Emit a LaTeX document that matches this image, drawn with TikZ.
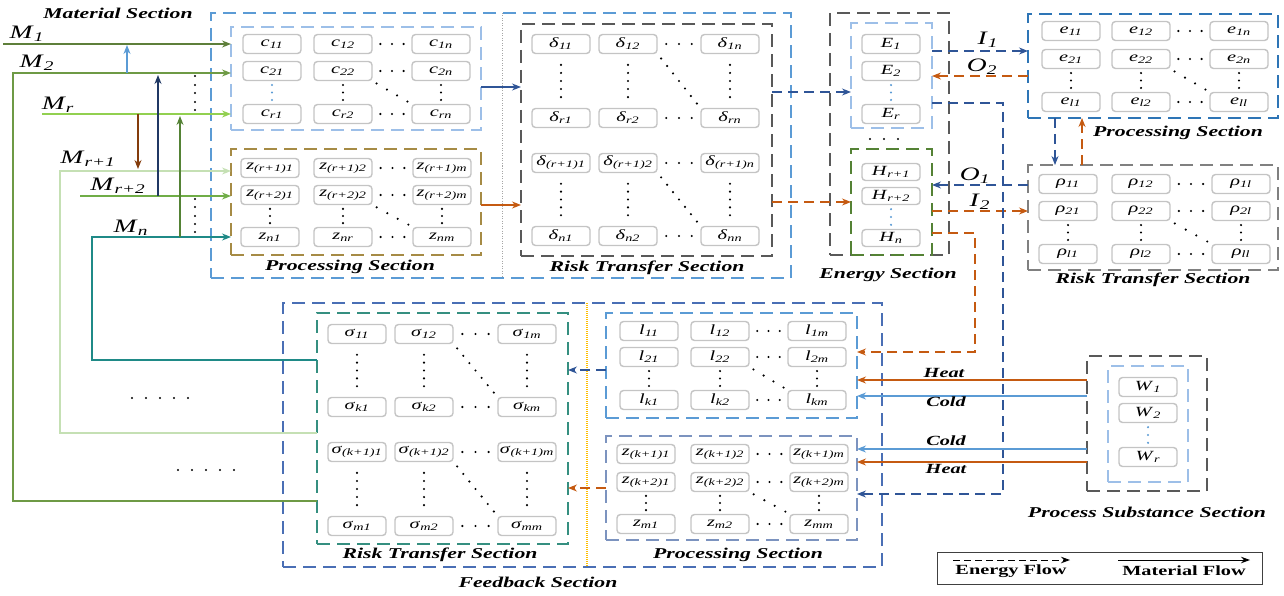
\documentclass[tikz,border=0pt]{standalone}
\usepackage{fontspec}
\setmainfont{Liberation Serif}
\usepackage{graphicx}
\usetikzlibrary{arrows.meta,calc}
\definecolor{procblue}{HTML}{5B9BD5}
\definecolor{lblue}{HTML}{9DBFE8}
\definecolor{zgold}{HTML}{A68B45}
\definecolor{dgray}{HTML}{595959}
\definecolor{mgray}{HTML}{808080}
\definecolor{egreen}{HTML}{548235}
\definecolor{eblue}{HTML}{2E75B6}
\definecolor{fbblue}{HTML}{4A6FB5}
\definecolor{tealb}{HTML}{358F80}
\definecolor{zkblue}{HTML}{7C93BF}
\definecolor{ydiv}{HTML}{FFC000}
\definecolor{arrblue}{HTML}{2F5597}
\definecolor{arrorange}{HTML}{C55A11}
\definecolor{coldc}{HTML}{5B9BD5}
\definecolor{cMa}{HTML}{5E7F3A}
\definecolor{cMb}{HTML}{6E9A45}
\definecolor{cMr}{HTML}{92D050}
\definecolor{cMq}{HTML}{C5E0B4}
\definecolor{cMp}{HTML}{70AD47}
\definecolor{cMn}{HTML}{1F8A87}
\definecolor{navyc}{HTML}{203864}
\definecolor{brownc}{HTML}{843C0C}
\definecolor{cellgray}{HTML}{C4C4C4}
\newcommand{\sx}[1]{\scalebox{1.45}[1]{#1}}
\newcommand{\cv}[2]{\scalebox{1.45}[1]{\textit{#1}\textsubscript{\textit{#2}}}}
\newcommand{\rowdots}[2]{\foreach \t in {0.2,0.5,0.8}{\fill ($(#1.east)!\t!(#2.west)$) circle (1.2pt);}}
\newcommand{\coldots}[3][black]{\foreach \t in {0.17,0.5,0.83}{\fill[#1] ($(#2.south)!\t!(#3.north)$) circle (1.2pt);}}
\newcommand{\colfive}[2]{\foreach \t in {0.2,0.35,0.5,0.65,0.8}{\fill ($(#1.south)!\t!(#2.north)$) circle (1.2pt);}}
\newcommand{\diagdots}[3]{\foreach \t in {#3}{\fill ($(#1.south east)!\t!(#2.north west)$) circle (1.2pt);}}
\newcommand{\cellrow}[8]{%
  \node[cell] (#1a) at (#3,#2) {#6};
  \node[cell] (#1b) at (#4,#2) {#7};
  \node[cell] (#1c) at (#5,#2) {#8};
  \rowdots{#1b}{#1c}}
\tikzset{
  cell/.style={draw=cellgray, rounded corners=3.5pt, line width=1.4pt, fill=white,
    minimum width=58pt, minimum height=19pt, inner sep=0pt, font=\fontsize{14}{14}\selectfont},
  sbox/.style={draw=#1, dash pattern=on 13pt off 7pt, line width=1.2pt, inner sep=0pt, outer sep=0pt},
  sect/.style={font=\fontsize{15}{15}\selectfont\bfseries\itshape, inner sep=0pt},
  mlab/.style={font=\fontsize{19}{19}\selectfont, inner sep=0pt},
  hclab/.style={font=\fontsize{14}{14}\selectfont\bfseries\itshape, inner sep=0pt},
  tipS/.style={-{Stealth[length=9pt,width=7pt]}},
  mflow/.style={draw=#1, line width=1.2pt, tipS},
  eflow/.style={draw=#1, line width=1.2pt, dash pattern=on 10pt off 6pt, tipS},
}
\begin{document}
\begin{tikzpicture}[x=1pt,y=-1pt]
\useasboundingbox (0,0) rectangle (1284,596);

% ---------- section boxes ----------
\node[sbox=procblue, minimum width=580pt, minimum height=265pt] (procbox) at (501,145.5) {};
\node[sbox=lblue, minimum width=250pt, minimum height=103pt] (cbox) at (356,78.5) {};
\node[sbox=zgold, minimum width=250pt, minimum height=106pt] (zbox) at (356,202) {};
\node[sbox=dgray, minimum width=251pt, minimum height=232pt] (rtbox) at (646.5,140) {};
\node[sbox=dgray, minimum width=119pt, minimum height=242pt] (enbox) at (889.5,134) {};
\node[sbox=lblue, minimum width=81pt, minimum height=105pt] (Ebox) at (891.5,75.5) {};
\node[sbox=egreen, minimum width=81pt, minimum height=106pt] (Hbox) at (891.5,202) {};
\node[sbox=eblue, minimum width=250pt, minimum height=104pt] (ebox) at (1153,66) {};
\node[sbox=mgray, minimum width=250pt, minimum height=105pt] (rhobox) at (1153,217.5) {};
\node[sbox=fbblue, minimum width=599pt, minimum height=264pt] (fbbox) at (582.5,435) {};
\node[sbox=tealb, minimum width=251pt, minimum height=231pt] (sigbox) at (442.5,428.5) {};
\node[sbox=procblue, minimum width=251pt, minimum height=105pt] (lbox) at (731.5,365.5) {};
\node[sbox=zkblue, minimum width=251pt, minimum height=104pt] (zkbox) at (731.5,488) {};
\node[sbox=dgray, minimum width=120pt, minimum height=135pt] (psout) at (1147,423.5) {};
\node[sbox=lblue, minimum width=80pt, minimum height=116pt] (psin) at (1148,424) {};
\node[draw=black!75, line width=1pt, minimum width=325pt, minimum height=32pt, inner sep=0pt] (legend) at (1099.5,568) {};

% dividers
\draw[gray!70, dash pattern=on 1pt off 1.5pt, line width=0.8pt] (502,13) -- (502,278);
\draw[ydiv, dash pattern=on 1pt off 1pt, line width=1.6pt] (587,303) -- (587,567);

% ---------- section labels ----------
\node[sect] (tmat) at (118,13) {\sx{Material Section}};
\node[sect] (tproc1) at (350,267) {\sx{Processing Section}};
\node[sect] (trt1) at (647,268) {\sx{Risk Transfer Section}};
\node[sect] (ten) at (888,275) {\sx{Energy Section}};
\node[sect] (tproc2) at (1178,133) {\sx{Processing Section}};
\node[sect] (trt2) at (1153,280) {\sx{Risk Transfer Section}};
\node[sect] (trt3) at (440,555) {\sx{Risk Transfer Section}};
\node[sect] (tproc3) at (738,555) {\sx{Processing Section}};
\node[sect] (tfb) at (538,582) {\sx{Feedback Section}};
\node[sect] (tps) at (1147,512) {\sx{Process Substance Section}};

% ---------- c matrix ----------
\cellrow{c1}{44}{272}{343}{441}{\cv{c}{11}}{\cv{c}{12}}{\cv{c}{1n}}
\cellrow{c2}{71}{272}{343}{441}{\cv{c}{21}}{\cv{c}{22}}{\cv{c}{2n}}
\cellrow{c3}{114}{272}{343}{441}{\cv{c}{r1}}{\cv{c}{r2}}{\cv{c}{rn}}
\coldots[procblue]{c2a}{c3a}\coldots{c2b}{c3b}\coldots{c2c}{c3c}
\diagdots{c2b}{c3c}{0.1,0.37,0.63,0.9}

% ---------- z matrix ----------
\cellrow{z1}{168}{270}{343}{442}{\cv{z}{(r+1)1}}{\cv{z}{(r+1)2}}{\cv{z}{(r+1)m}}
\cellrow{z2}{195}{270}{343}{442}{\cv{z}{(r+2)1}}{\cv{z}{(r+2)2}}{\cv{z}{(r+2)m}}
\cellrow{z3}{237}{270}{343}{442}{\cv{z}{n1}}{\cv{z}{nr}}{\cv{z}{nm}}
\coldots{z2a}{z3a}\coldots{z2b}{z3b}\coldots{z2c}{z3c}
\diagdots{z2b}{z3c}{0.1,0.37,0.63,0.9}

% ---------- delta matrix ----------
\cellrow{d1}{44}{561}{628}{730}{\cv{δ}{11}}{\cv{δ}{12}}{\cv{δ}{1n}}
\cellrow{d2}{118}{561}{628}{730}{\cv{δ}{r1}}{\cv{δ}{r2}}{\cv{δ}{rn}}
\cellrow{d3}{163}{561}{628}{730}{\cv{δ}{(r+1)1}}{\cv{δ}{(r+1)2}}{\cv{δ}{(r+1)n}}
\cellrow{d4}{236}{561}{628}{730}{\cv{δ}{n1}}{\cv{δ}{n2}}{\cv{δ}{nn}}
\colfive{d1a}{d2a}\colfive{d1b}{d2b}\colfive{d1c}{d2c}
\colfive{d3a}{d4a}\colfive{d3b}{d4b}\colfive{d3c}{d4c}
\diagdots{d1b}{d2c}{0.08,0.22,0.36,0.5,0.64,0.78,0.92}
\diagdots{d3b}{d4c}{0.08,0.22,0.36,0.5,0.64,0.78,0.92}

% ---------- energy ----------
\node[cell] (E1) at (891,44) {\cv{E}{1}};
\node[cell] (E2) at (891,71) {\cv{E}{2}};
\node[cell] (Er) at (891,114) {\cv{E}{r}};
\coldots[procblue]{E2}{Er}
\foreach \x in {870,884,898}{\fill (\x,139) circle (1.2pt);}
\node[cell, minimum height=17pt] (H1) at (891,172) {\cv{H}{r+1}};
\node[cell, minimum height=17pt] (H2) at (891,196) {\cv{H}{r+2}};
\node[cell, minimum height=17pt] (Hn) at (891,238) {\cv{H}{n}};
\coldots[procblue]{H2}{Hn}

% ---------- e matrix ----------
\cellrow{e1}{31}{1071}{1141}{1239}{\cv{e}{11}}{\cv{e}{12}}{\cv{e}{1n}}
\cellrow{e2}{59}{1071}{1141}{1239}{\cv{e}{21}}{\cv{e}{22}}{\cv{e}{2n}}
\cellrow{e3}{102}{1071}{1141}{1239}{\cv{e}{l1}}{\cv{e}{l2}}{\cv{e}{ll}}
\coldots{e2a}{e3a}\coldots{e2b}{e3b}\coldots{e2c}{e3c}
\diagdots{e2b}{e3c}{0.1,0.37,0.63,0.9}

% ---------- rho matrix ----------
\cellrow{p1}{184}{1068}{1141}{1241}{\cv{ρ}{11}}{\cv{ρ}{12}}{\cv{ρ}{1l}}
\cellrow{p2}{211}{1068}{1141}{1241}{\cv{ρ}{21}}{\cv{ρ}{22}}{\cv{ρ}{2l}}
\cellrow{p3}{254}{1068}{1141}{1241}{\cv{ρ}{l1}}{\cv{ρ}{l2}}{\cv{ρ}{ll}}
\coldots{p2a}{p3a}\coldots{p2b}{p3b}\coldots{p2c}{p3c}
\diagdots{p2b}{p3c}{0.1,0.37,0.63,0.9}

% ---------- sigma matrix ----------
\cellrow{s1}{334}{357}{424}{527}{\cv{σ}{11}}{\cv{σ}{12}}{\cv{σ}{1m}}
\cellrow{s2}{407}{357}{424}{527}{\cv{σ}{k1}}{\cv{σ}{k2}}{\cv{σ}{km}}
\cellrow{s3}{452}{357}{424}{527}{\cv{σ}{(k+1)1}}{\cv{σ}{(k+1)2}}{\cv{σ}{(k+1)m}}
\cellrow{s4}{526}{357}{424}{527}{\cv{σ}{m1}}{\cv{σ}{m2}}{\cv{σ}{mm}}
\colfive{s1a}{s2a}\colfive{s1b}{s2b}\colfive{s1c}{s2c}
\colfive{s3a}{s4a}\colfive{s3b}{s4b}\colfive{s3c}{s4c}
\diagdots{s1b}{s2c}{0.08,0.22,0.36,0.5,0.64,0.78,0.92}
\diagdots{s3b}{s4c}{0.08,0.22,0.36,0.5,0.64,0.78,0.92}

% ---------- l matrix ----------
\cellrow{l1}{331}{649}{720}{817}{\cv{l}{11}}{\cv{l}{12}}{\cv{l}{1m}}
\cellrow{l2}{357}{649}{720}{817}{\cv{l}{21}}{\cv{l}{22}}{\cv{l}{2m}}
\cellrow{l3}{400}{649}{720}{817}{\cv{l}{k1}}{\cv{l}{k2}}{\cv{l}{km}}
\coldots{l2a}{l3a}\coldots{l2b}{l3b}\coldots{l2c}{l3c}
\diagdots{l2b}{l3c}{0.1,0.37,0.63,0.9}

% ---------- zk matrix ----------
\cellrow{k1}{454}{646}{720}{819}{\cv{z}{(k+1)1}}{\cv{z}{(k+1)2}}{\cv{z}{(k+1)m}}
\cellrow{k2}{482}{646}{720}{819}{\cv{z}{(k+2)1}}{\cv{z}{(k+2)2}}{\cv{z}{(k+2)m}}
\cellrow{k3}{524}{646}{720}{819}{\cv{z}{m1}}{\cv{z}{m2}}{\cv{z}{mm}}
\coldots{k2a}{k3a}\coldots{k2b}{k3b}\coldots{k2c}{k3c}
\diagdots{k2b}{k3c}{0.1,0.37,0.63,0.9}

% ---------- W ----------
\node[cell] (W1) at (1148,387) {\cv{W}{1}};
\node[cell] (W2) at (1148,413) {\cv{W}{2}};
\node[cell] (Wr) at (1148,457) {\cv{W}{r}};
\coldots[procblue]{W2}{Wr}

% ---------- material inputs ----------
\coordinate (m1s) at (3,44);
\coordinate (m2b) at (13,501); \coordinate (m2t) at (13,73);
\coordinate (mrs) at (42,114);
\coordinate (mqb) at (60,433); \coordinate (mqt) at (60,171);
\coordinate (mps) at (80,196);
\coordinate (mnb) at (92,360); \coordinate (mnt) at (92,237);
\draw[mflow=cMa] (m1s) -- (cbox.west |- m1s);
\draw[mflow=cMb] (sigbox.west |- m2b) -- (m2b) -- (m2t) -- (cbox.west |- m2t);
\draw[mflow=cMr] (mrs) -- (cbox.west |- mrs);
\draw[mflow=cMq] (sigbox.west |- mqb) -- (mqb) -- (mqt) -- (zbox.west |- mqt);
\draw[mflow=cMp] (mps) -- (zbox.west |- mps);
\draw[mflow=cMn] (sigbox.west |- mnb) -- (mnb) -- (mnt) -- (zbox.west |- mnt);

\node[mlab] (lM1) at (27,34) {\sx{\textit{M}\textsubscript{\textit{1}}}};
\node[mlab] (lM2) at (37,63) {\sx{\textit{M}\textsubscript{\textit{2}}}};
\node[mlab] (lMr) at (58,105) {\sx{\textit{M}\textsubscript{\textit{r}}}};
\node[mlab] (lMq) at (88,159) {\sx{\textit{M}\textsubscript{\textit{r+1}}}};
\node[mlab] (lMp) at (118,186) {\sx{\textit{M}\textsubscript{\textit{r+2}}}};
\node[mlab] (lMn) at (131,228) {\sx{\textit{M}\textsubscript{\textit{n}}}};

% vertical exchange arrows
\coordinate (va1s) at (127,73); \coordinate (va1e) at (127,45);
\coordinate (va2s) at (158,196); \coordinate (va2e) at (158,75);
\coordinate (va3s) at (138,114); \coordinate (va3e) at (138,169);
\coordinate (va4s) at (180,237); \coordinate (va4e) at (180,116);
\draw[mflow=procblue] (va1s) -- (va1e);
\draw[mflow=navyc] (va2s) -- (va2e);
\draw[mflow=brownc] (va3s) -- (va3e);
\draw[mflow=egreen] (va4s) -- (va4e);
\foreach \y in {76,85,93,102,110}{\fill (195,\y) circle (1.1pt);}
\foreach \y in {199,207,216,224,232}{\fill (195,\y) circle (1.1pt);}
\foreach \x in {132,146,160,174,188}{\fill (\x,398) circle (1.1pt);}
\foreach \x in {178,192,206,220,234}{\fill (\x,470) circle (1.1pt);}

% ---------- flows top ----------
\coordinate (y87) at (0,87); \coordinate (y205) at (0,205);
\coordinate (y92) at (0,92); \coordinate (y202) at (0,202);
\draw[mflow=arrblue] (cbox.east |- y87) -- (rtbox.west |- y87);
\draw[mflow=arrorange] (zbox.east |- y205) -- (rtbox.west |- y205);
\draw[eflow=arrblue] (rtbox.east |- y92) -- (Ebox.west |- y92);
\draw[eflow=arrorange] (rtbox.east |- y202) -- (Hbox.west |- y202);

\coordinate (yI1) at (0,51); \coordinate (yO2) at (0,76);
\coordinate (yO1) at (0,185); \coordinate (yI2) at (0,211);
\draw[eflow=arrblue] (Ebox.east |- yI1) -- (ebox.west |- yI1);
\draw[eflow=arrorange] (ebox.west |- yO2) -- (Ebox.east |- yO2);
\draw[eflow=arrblue] (rhobox.west |- yO1) -- (Hbox.east |- yO1);
\draw[eflow=arrorange] (Hbox.east |- yI2) -- (rhobox.west |- yI2);
\node[mlab] (lI1) at (988,40) {\sx{\textit{I}\textsubscript{\textit{1}}}};
\node[mlab] (lO2) at (982,67) {\sx{\textit{O}\textsubscript{\textit{2}}}};
\node[mlab] (lO1) at (975,176) {\sx{\textit{O}\textsubscript{\textit{1}}}};
\node[mlab] (lI2) at (980,202) {\sx{\textit{I}\textsubscript{\textit{2}}}};

\coordinate (ez1) at (1003,103); \coordinate (ez2) at (1003,494);
\draw[eflow=arrblue] (Ebox.east |- ez1) -- (ez1) -- (ez2) -- (zkbox.east |- ez2);
\coordinate (hl1) at (975,233); \coordinate (hl2) at (975,352);
\draw[eflow=arrorange] (Hbox.east |- hl1) -- (hl1) -- (hl2) -- (lbox.east |- hl2);

\coordinate (xd) at (1055,0); \coordinate (xu) at (1082,0);
\draw[eflow=arrblue] (ebox.south -| xd) -- (rhobox.north -| xd);
\draw[eflow=arrorange] (rhobox.north -| xu) -- (ebox.south -| xu);

% ---------- feedback flows ----------
\coordinate (y370) at (0,370); \coordinate (y488) at (0,488);
\draw[eflow=arrblue] (lbox.west |- y370) -- (sigbox.east |- y370);
\draw[eflow=arrorange] (zkbox.west |- y488) -- (sigbox.east |- y488);

\coordinate (yh1) at (0,380); \coordinate (yc1) at (0,396);
\coordinate (yc2) at (0,449); \coordinate (yh2) at (0,462);
\draw[mflow=arrorange] (psout.west |- yh1) -- (lbox.east |- yh1);
\draw[mflow=coldc] (psout.west |- yc1) -- (lbox.east |- yc1);
\draw[mflow=coldc] (psout.west |- yc2) -- (zkbox.east |- yc2);
\draw[mflow=arrorange] (psout.west |- yh2) -- (zkbox.east |- yh2);
\node[hclab] (lh1) at (944,373) {\sx{Heat}};
\node[hclab] (lc1) at (946,402) {\sx{Cold}};
\node[hclab] (lc2) at (946,441) {\sx{Cold}};
\node[hclab] (lh2) at (946,469) {\sx{Heat}};

% ---------- legend ----------
\coordinate (lg1s) at (953,560); \coordinate (lg1e) at (1070,560);
\coordinate (lg2s) at (1118,560); \coordinate (lg2e) at (1250,560);
\draw[black, line width=1pt, dash pattern=on 7pt off 4pt, -{Stealth[length=9pt,width=6.5pt]}] (lg1s) -- (lg1e);
\draw[black, line width=1pt, -{Stealth[length=9pt,width=6.5pt]}] (lg2s) -- (lg2e);
\node[font=\fontsize{14}{14}\selectfont\bfseries, inner sep=0pt] (tef) at (1011,571) {\sx{Energy Flow}};
\node[font=\fontsize{14}{14}\selectfont\bfseries, inner sep=0pt] (tmf) at (1184,571) {\sx{Material Flow}};
\end{tikzpicture}
\end{document}
